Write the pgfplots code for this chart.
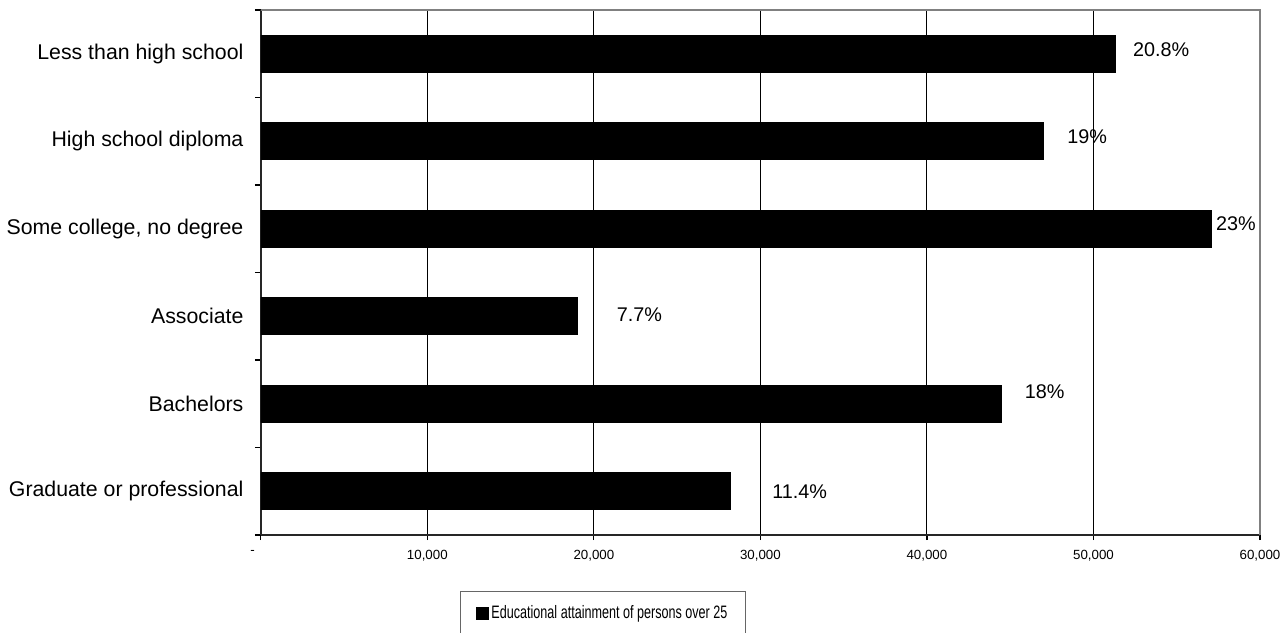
\documentclass[border=0pt]{standalone}
\usepackage{fontspec}
\setmainfont{Liberation Sans}
\usepackage{graphicx}
\usepackage{pgfplots}
\usepackage{pgfplotstable}
\pgfplotsset{compat=1.18}

\pgfplotstableread{
y x pct dx dy
0 28200 11.4 20.8 -0.2
1 44500 18 11.3 5.9
2 19020 7.7 19.5 1.0
3 57060 23 2.3 2.7
4 47000 19 11.7 2.4
5 51290 20.8 8.85 1.9
}\datatable

\begin{document}
\begin{tikzpicture}
\useasboundingbox (0,0) rectangle (642.5pt,316pt);
\begin{axis}[
  at={(130.4pt,48.5pt)}, anchor=south west,
  scale only axis, width=499.6pt, height=262.5pt,
  xbar, bar width=18.5pt,
  xmin=0, xmax=60000, ymin=-0.5, ymax=5.5,
  scaled x ticks=false,
  /pgf/number format/assume math mode=true,
  axis x line*=bottom, axis y line*=left,
  axis line style={-, black!85, line width=0.7pt},
  xtick={0,10000,20000,30000,40000,50000,60000},
  xticklabels={{\llap{-\hspace{3pt}}},{10,000},{20,000},{30,000},{40,000},{50,000},{60,000}},
  xticklabel style={font=\fontsize{6.65}{8}\selectfont, inner sep=0pt, yshift=-5pt},
  ytick={0,1,2,3,4,5},
  yticklabels={Graduate or professional,Bachelors,Associate,{Some college, no degree},High school diploma,Less than high school},
  yticklabel style={font=\fontsize{10.65}{12}\selectfont, inner sep=0pt, xshift=-6pt},
  minor ytick={-0.5,0.5,1.5,2.5,3.5,4.5,5.5},
  tick align=outside,
  major tick length=2.5pt, minor tick length=3pt,
  major y tick style={draw=none},
  minor y tick style={black, line width=0.6pt},
  major x tick style={black, line width=0.6pt},
  xmajorgrids, major grid style={black, line width=0.5pt},
  point meta=explicit,
  visualization depends on={\thisrow{dx} \as \dx},
  visualization depends on={\thisrow{dy} \as \dy},
  nodes near coords={\pgfmathprintnumber[fixed,precision=1,assume math mode=true]{\pgfplotspointmeta}\%},
  nodes near coords style={anchor=west, inner sep=0pt, xshift=\dx pt, yshift=\dy pt, font=\fontsize{9.9}{11}\selectfont, text=black},
  legend style={at={(axis description cs:0.199,-0.1067)}, anchor=north west,
    draw=black!60, line width=0.6pt, inner xsep=8pt, inner ysep=6pt,
    font=\fontsize{9}{10}\selectfont, nodes={inner sep=1pt}},
  legend image code/.code={\fill[black] (0pt,-3pt) rectangle (6pt,3pt);},
  after end axis/.code={\draw[black!50, line width=0.7pt] (rel axis cs:0,1) -- (rel axis cs:1,1) -- (rel axis cs:1,0);},
]
\addplot[fill=black, draw=black] table[x=x, y=y, meta=pct] {\datatable};
\addlegendentry{\scalebox{0.7}[1]{Educational attainment of persons over 25}}
\end{axis}
\end{tikzpicture}
\end{document}
